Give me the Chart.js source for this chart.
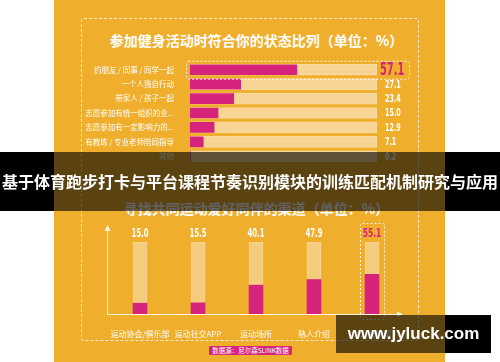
<!DOCTYPE html>
<html>
<head>
<meta charset="utf-8">
<script src="https://cdn.jsdelivr.net/npm/chart.js@4/dist/chart.umd.min.js"></script>
<style>
  html, body { margin: 0; padding: 0; }
  body { width: 500px; height: 362px; background: #fff; position: relative; overflow: hidden;
         font-family: 'Noto Sans CJK SC', sans-serif; }
  .abs { position: absolute; }
  #panel { left: 54px; top: 0; width: 391px; height: 362px; background: #F0AE2D; }
  #frame { left: 81px; top: 18px; width: 336px; height: 321px; border: 1px dashed rgba(255,255,255,0.75); border-radius: 3px; }
  .title { color: #fff; font-weight: bold; font-size: 14px; text-align: center; width: 391px; left: 61px; white-space: nowrap; }
  #topWrap { left: 54px; top: 50px; width: 391px; height: 126px; }
  #botWrap { left: 54px; top: 220px; width: 391px; height: 122px; }
  .shade { background: rgba(0,0,0,0.62); }
  .black { background: #000; }
  #bannerText { left: 0; top: 152px; width: 500px; height: 59px; line-height: 59px; color: #fff;
                font-weight: bold; font-size: 16px; text-align: center; white-space: nowrap; }
  #source { left: 209px; top: 346px; width: 83px; height: 9px; background: #D6247C; border-radius: 1px;
            color: #fff; font-size: 6.5px; line-height: 9px; text-align: center; white-space: nowrap; }
  #mark { left: 336px; top: 315px; width: 155px; height: 38px; line-height: 38px; color: #fff;
          font-family: 'Liberation Sans', Arial, sans-serif; font-weight: bold; font-size: 17px; text-align: center; }
</style>
</head>
<body>
<div id="panel" class="abs"></div>
<div id="frame" class="abs"></div>
<div class="abs title" style="top:30px;">参加健身活动时符合你的状态比列（单位：%）</div>
<div class="abs title" style="top:198px;">寻找共同运动爱好同伴的渠道（单位：%）</div>
<div id="topWrap" class="abs"><canvas id="topChart"></canvas></div>
<div id="botWrap" class="abs"><canvas id="botChart"></canvas></div>
<div id="source" class="abs">数据源：尼尔森SLINK数据</div>

<!-- banner -->
<div class="abs black" style="left:0;top:152px;width:54px;height:59px;"></div>
<div class="abs shade" style="left:54px;top:152px;width:391px;height:59px;"></div>
<div class="abs black" style="left:445px;top:152px;width:55px;height:59px;"></div>
<div id="bannerText" class="abs">基于体育跑步打卡与平台课程节奏识别模块的训练匹配机制研究与应用</div>

<!-- watermark -->
<div class="abs shade" style="left:336px;top:315px;width:109px;height:38px;"></div>
<div class="abs black" style="left:445px;top:315px;width:46px;height:38px;"></div>
<div id="mark" class="abs">www.jyluck.com</div>

<script>
const topLabels = ['约朋友 / 同事 / 同学一起', '一个人独自行动', '带家人 / 孩子一起', '志愿参加有统一组织的业...', '志愿参加有一定影响力的...', '有教练 / 专业老师陪同指导', '其他'];
const topValues = [57.1, 27.1, 23.4, 15.0, 12.9, 7.1, 0.2];
const topTrack = [100, 100, 100, 100, 100, 100, 100];
const topHighlight = 0;

const botLabels = ['运动协会/俱乐部', '运动社交APP', '运动场所', '熟人介绍', 'QQ/微信群'];
const botValues = [15.0, 15.5, 40.1, 47.9, 55.1];
const botTrack = [100, 100, 100, 100, 100];
const botHighlight = 4;

const MAGENTA = '#D6247C';
const numFont = "'DejaVu Sans', sans-serif";

Chart.defaults.font.family = "'Noto Sans CJK SC', sans-serif";
Chart.defaults.animation = false;

function dashedBox(ctx, x, y, w, h) {
  ctx.save();
  ctx.strokeStyle = 'rgba(255,255,255,0.85)';
  ctx.lineWidth = 1;
  ctx.setLineDash([2, 2]);
  ctx.beginPath();
  ctx.roundRect(x + 0.5, y + 0.5, w, h, 2);
  ctx.stroke();
  ctx.restore();
}

// squeezed bold numbers, like the condensed face of the poster
function drawNum(ctx, text, x, y, size) {
  ctx.save();
  ctx.translate(x, y);
  ctx.scale(0.58, 1);
  ctx.font = 'bold ' + size + 'px ' + numFont;
  ctx.fillText(text, 0, 0);
  ctx.restore();
}

const topLabelsPlugin = {
  id: 'topLabels',
  afterDatasetsDraw(chart) {
    const ctx = chart.ctx;
    const meta = chart.getDatasetMeta(0);
    const area = chart.chartArea;
    ctx.save();
    ctx.textBaseline = 'middle';
    ctx.textAlign = 'left';
    meta.data.forEach((bar, i) => {
      const hi = i === topHighlight;
      ctx.fillStyle = hi ? MAGENTA : '#fff';
      drawNum(ctx, topValues[i].toFixed(1), area.right + (hi ? 3 : 8), bar.y + 0.5, hi ? 17 : 11);
      if (hi) dashedBox(ctx, area.left - 4, bar.y - 9, area.right - area.left + 36, 18);
    });
    ctx.restore();
  }
};

const botLabelsPlugin = {
  id: 'botLabels',
  afterDatasetsDraw(chart) {
    const ctx = chart.ctx;
    const meta = chart.getDatasetMeta(0);
    const area = chart.chartArea;
    ctx.save();
    // axes with arrows
    const ax = area.left - 4;
    ctx.strokeStyle = 'rgba(255,255,255,0.85)';
    ctx.fillStyle = 'rgba(255,255,255,0.9)';
    ctx.lineWidth = 1;
    ctx.beginPath();
    ctx.moveTo(ax + 0.5, area.top - 12);
    ctx.lineTo(ax + 0.5, area.bottom + 0.5);
    ctx.lineTo(area.right - 3, area.bottom + 0.5);
    ctx.stroke();
    ctx.beginPath();
    ctx.moveTo(ax + 0.5, area.top - 17);
    ctx.lineTo(ax - 2.5, area.top - 11);
    ctx.lineTo(ax + 3.5, area.top - 11);
    ctx.fill();
    ctx.beginPath();
    ctx.moveTo(area.right + 2, area.bottom + 0.5);
    ctx.lineTo(area.right - 4, area.bottom - 2.5);
    ctx.lineTo(area.right - 4, area.bottom + 3.5);
    ctx.fill();

    ctx.textBaseline = 'middle';
    ctx.textAlign = 'center';
    meta.data.forEach((bar, i) => {
      const hi = i === botHighlight;
      ctx.fillStyle = hi ? MAGENTA : '#fff';
      drawNum(ctx, botValues[i].toFixed(1), bar.x, area.top - 8, hi ? 13 : 12);
      if (hi) dashedBox(ctx, bar.x - 12, area.top - 19, 24, area.bottom - area.top + 24);
    });
    ctx.restore();
  }
};

new Chart(document.getElementById('topChart'), {
  type: 'bar',
  data: {
    labels: topLabels,
    datasets: [
      { data: topValues, backgroundColor: MAGENTA, barThickness: 10, grouped: false, order: 0 },
      { data: topTrack, backgroundColor: '#F8D594', borderColor: '#F9DCA2', borderWidth: 1, barThickness: 11, grouped: false, order: 1 }
    ]
  },
  options: {
    indexAxis: 'y',
    responsive: true,
    maintainAspectRatio: false,
    layout: { padding: { left: 0, right: 68, top: 6, bottom: 5 } },
    plugins: { legend: { display: false }, tooltip: { enabled: false } },
    scales: {
      x: { display: false, min: 0, max: 100 },
      y: {
        grid: { display: false },
        border: { display: false },
        ticks: { color: '#fff', font: { size: 7.5 }, padding: 8 },
        afterFit(scale) { scale.width = 136; }
      }
    }
  },
  plugins: [topLabelsPlugin]
});

new Chart(document.getElementById('botChart'), {
  type: 'bar',
  data: {
    labels: botLabels,
    datasets: [
      { data: botValues, backgroundColor: MAGENTA, barThickness: 14, grouped: false, order: 0 },
      { data: botTrack, backgroundColor: '#F5CC7E', borderColor: '#F8D695', borderWidth: 1, barThickness: 14, grouped: false, order: 1 }
    ]
  },
  options: {
    responsive: true,
    maintainAspectRatio: false,
    layout: { padding: { left: 57, right: 44, top: 22, bottom: 0 } },
    plugins: { legend: { display: false }, tooltip: { enabled: false } },
    scales: {
      y: { display: false, min: 0, max: 100 },
      x: {
        grid: { display: false },
        border: { display: false },
        ticks: { color: '#fff', font: { size: 8 }, padding: 7, maxRotation: 0, autoSkip: false },
        afterFit(scale) { scale.height = 28; }
      }
    }
  },
  plugins: [botLabelsPlugin]
});
</script>
</body>
</html>
